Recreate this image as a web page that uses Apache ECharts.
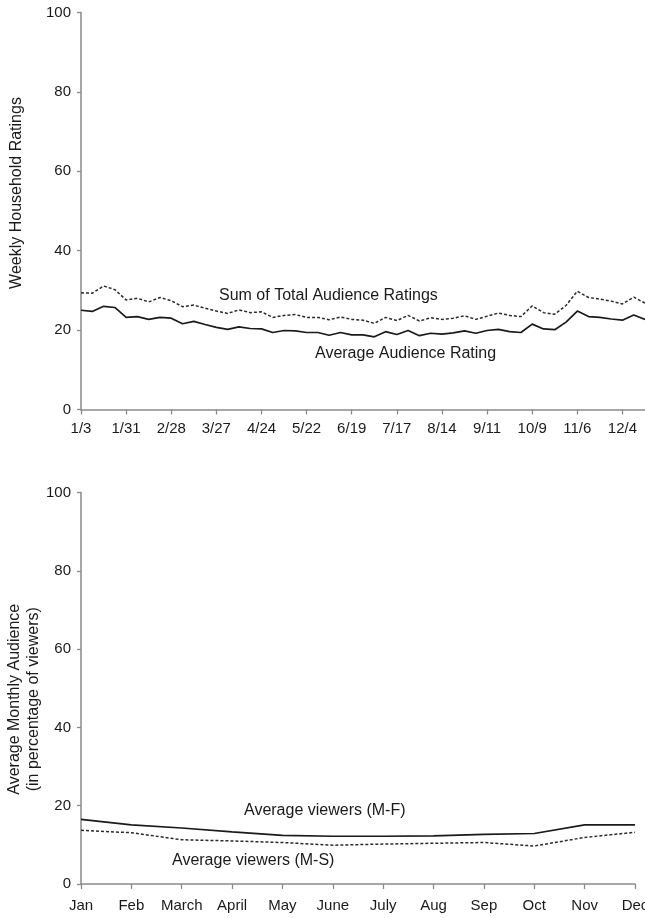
<!DOCTYPE html>
<html>
<head>
<meta charset="utf-8">
<script src="https://cdn.jsdelivr.net/npm/echarts@6/dist/echarts.min.js"></script>
<style>
html,body{margin:0;padding:0;background:#fff;}
#chart{width:645px;height:918px;}
</style>
</head>
<body>
<div id="chart"></div>
<script>
// ---- Top panel: weekly household ratings ----
const weeks = ['1/3','1/10','1/17','1/24','1/31','2/7','2/14','2/21','2/28','3/6','3/13','3/20','3/27',
  '4/3','4/10','4/17','4/24','5/1','5/8','5/15','5/22','5/29','6/5','6/12','6/19','6/26',
  '7/3','7/10','7/17','7/24','7/31','8/7','8/14','8/21','8/28','9/4','9/11','9/18','9/25',
  '10/2','10/9','10/16','10/23','10/30','11/6','11/13','11/20','11/27','12/4','12/11','12/18'];
const sumTotalRatings = [29.4,29.3,31.1,30.2,27.6,28.0,27.1,28.2,27.4,25.9,26.3,25.5,24.8,24.2,25.1,24.4,24.6,23.2,23.7,23.9,23.2,23.2,22.6,23.3,
  22.7,22.5,21.7,23.2,22.4,23.7,22.3,23.1,22.7,23.0,23.6,22.7,23.5,24.3,23.7,23.4,26.1,24.4,24.0,26.2,29.8,28.2,27.8,27.3,26.6,28.3,26.8];
const avgAudienceRating = [25.0,24.7,26.0,25.7,23.2,23.4,22.7,23.2,23.0,21.6,22.2,21.4,20.7,20.2,20.8,20.4,20.3,19.4,19.9,19.8,19.4,19.4,18.7,19.4,
  18.8,18.8,18.3,19.6,18.9,19.9,18.6,19.2,19.0,19.3,19.8,19.2,19.9,20.2,19.6,19.4,21.5,20.3,20.1,22.0,24.8,23.4,23.2,22.8,22.5,23.8,22.7];

// ---- Bottom panel: monthly audience ----
const months = ['Jan','Feb','March','April','May','June','July','Aug','Sep','Oct','Nov','Dec'];
const viewersMF = [16.5,15.1,14.3,13.3,12.4,12.2,12.2,12.3,12.7,12.9,15.1,15.1];
const viewersMS = [13.7,13.1,11.3,11.0,10.6,9.9,10.2,10.4,10.6,9.7,11.9,13.2];

const yTicks = {min:0, max:100, interval:20};

const FONT = "'Liberation Sans', Arial, sans-serif";
const TXT = '#1a1a1a';
const AX = '#8a8a8a';

function xAxisCfg(gridIndex, data, interval, margin){
  return {
    type:'category', gridIndex, data, boundaryGap:false,
    axisLine:{show:true, lineStyle:{color:AX, width:1.5}},
    axisTick:{show:true, interval, length:5, lineStyle:{color:AX, width:1.3}},
    axisLabel:{interval, margin, color:TXT, fontSize:15, fontFamily:FONT, hideOverlap:false},
    splitLine:{show:false}
  };
}
function yAxisCfg(gridIndex, name, nameGap, padding){
  return {
    type:'value', gridIndex, min:yTicks.min, max:yTicks.max, interval:yTicks.interval,
    name, nameLocation:'middle', nameGap, nameRotate:90, nameMoveOverlap:false,
    nameTextStyle:{color:TXT, fontSize:16, fontFamily:FONT, lineHeight:19, padding},
    axisLine:{show:true, lineStyle:{color:AX, width:1.5}},
    axisTick:{show:true, length:4, lineStyle:{color:AX, width:1.3}},
    axisLabel:{margin:10, color:TXT, fontSize:15, fontFamily:FONT},
    splitLine:{show:false}
  };
}

const solid = {color:'#1a1a1a', width:1.7, type:'solid'};
const dotted = {color:'#2a2a2a', width:1.5, type:[3,2]};

const chart = echarts.init(document.getElementById('chart'), null, {renderer:'canvas'});
chart.setOption({
  animation:false,
  backgroundColor:'#fff',
  grid:[
    {left:81, top:12.5, right:0, height:397, containLabel:false, outerBoundsMode:'none'},
    {left:81, top:492.5, width:554, height:391.5, containLabel:false, outerBoundsMode:'none'}
  ],
  xAxis:[
    xAxisCfg(0, weeks, 3, 12),
    xAxisCfg(1, months, 0, 14)
  ],
  yAxis:[
    yAxisCfg(0, 'Weekly Household Ratings', 55, [0,0,0,36]),
    yAxisCfg(1, 'Average Monthly Audience\n(in percentage of viewers)', 38, [0,22,0,0])
  ],
  series:[
    {name:'Sum of Total Audience Ratings', type:'line', xAxisIndex:0, yAxisIndex:0, data:sumTotalRatings, symbol:'none', lineStyle:dotted},
    {name:'Average Audience Rating', type:'line', xAxisIndex:0, yAxisIndex:0, data:avgAudienceRating, symbol:'none', lineStyle:solid},
    {name:'Average viewers (M-F)', type:'line', xAxisIndex:1, yAxisIndex:1, data:viewersMF, symbol:'none', lineStyle:solid},
    {name:'Average viewers (M-S)', type:'line', xAxisIndex:1, yAxisIndex:1, data:viewersMS, symbol:'none', lineStyle:dotted}
  ],
  graphic:[
    {type:'text', x:219, y:296, style:{text:'Sum of Total Audience Ratings', fill:TXT, font:'16px '+FONT, textVerticalAlign:'middle'}},
    {type:'text', x:315, y:354, style:{text:'Average Audience Rating', fill:TXT, font:'16px '+FONT, textVerticalAlign:'middle'}},
    {type:'text', x:244, y:811, style:{text:'Average viewers (M-F)', fill:TXT, font:'16px '+FONT, textVerticalAlign:'middle'}},
    {type:'text', x:172, y:861, style:{text:'Average viewers (M-S)', fill:TXT, font:'16px '+FONT, textVerticalAlign:'middle'}}
  ]
});
</script>
</body>
</html>
